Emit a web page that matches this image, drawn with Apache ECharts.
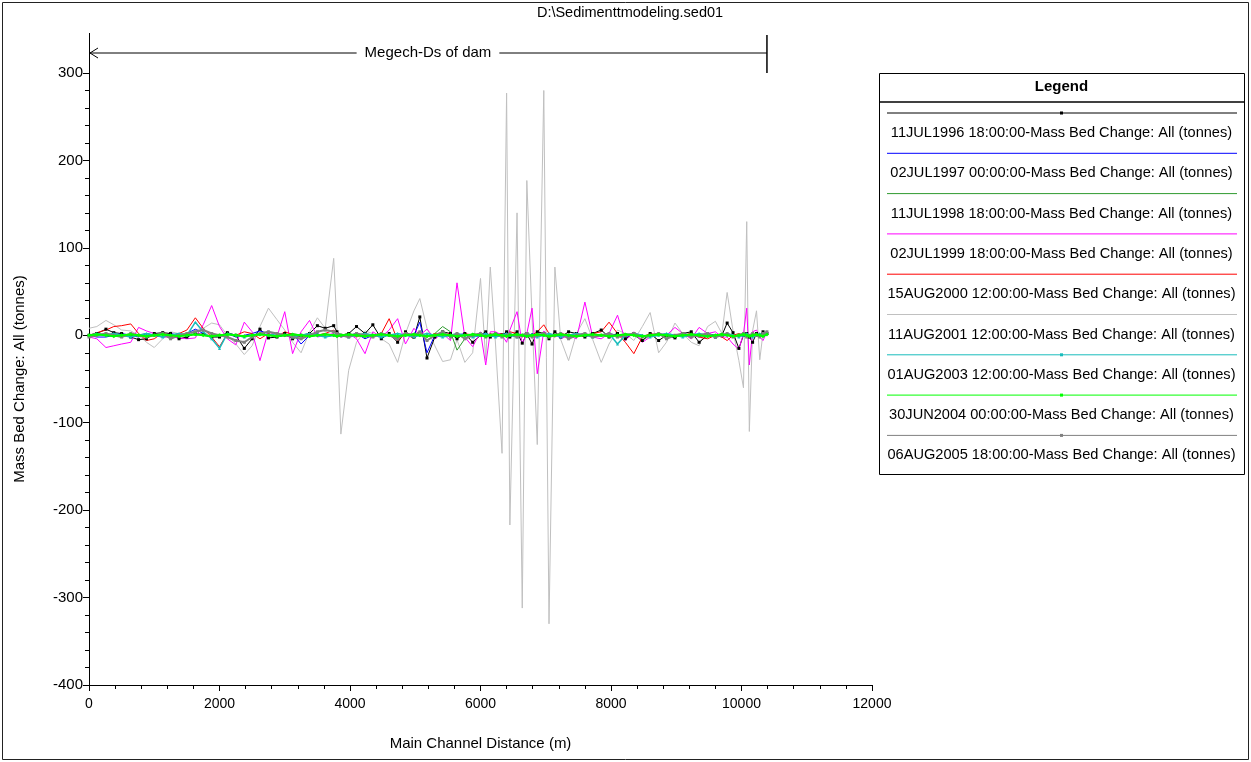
<!DOCTYPE html>
<html>
<head>
<meta charset="utf-8">
<title>Mass Bed Change</title>
<script src="https://cdn.jsdelivr.net/npm/echarts@6/dist/echarts.min.js"></script>
<style>
  html, body { margin: 0; padding: 0; background: #fff; }
  #chart { width: 1251px; height: 762px; }
</style>
</head>
<body>
<div id="chart"></div>
<script>
const FONT = 'Liberation Sans, Arial, sans-serif';

const plotTitle = 'D:\\Sedimenttmodeling.sed01';
const reachLabel = 'Megech-Ds of dam';
const reachEnd = 10390;

const xTicks = { min: 0, max: 12000, interval: 2000 };
const yTicks = { min: -400, max: 300, interval: 100 };

// river stations (m)
const distance = [
  0, 120, 260, 380, 500, 640, 760, 880, 1000, 1130,
  1250, 1380, 1500, 1630, 1750, 1880, 2000, 2120, 2250, 2380,
  2500, 2620, 2750, 2880, 3000, 3120, 3250, 3380, 3500, 3620,
  3750, 3800, 3860, 3980, 4100, 4230, 4350, 4480, 4600, 4730,
  4850, 4980, 5070, 5180, 5300, 5420, 5540, 5640, 5760, 5880,
  6000, 6080, 6150, 6230, 6330, 6400, 6450, 6560, 6640, 6710,
  6790, 6870, 6970, 7050, 7140, 7230, 7350, 7470, 7600, 7720,
  7850, 7970, 8100, 8220, 8350, 8480, 8600, 8730, 8850, 8980,
  9100, 9230, 9350, 9480, 9600, 9700, 9780, 9870, 9960, 10030,
  10080, 10120, 10170, 10230, 10280, 10330, 10390
];

const jul1996 = [
  0, 2, 7, 3, 2, -2, -5, -4, 2, 3,
  2, -4, -2, 2, 1, -2, -2, 3, 0, -15,
  -4, 7, -3, -2, 2, -4, 0, 2, 11, 8,
  11, 4, 0, 2, 10, 2, 12, -4, 2, -8,
  4, -2, 21, -26, -2, 4, 2, -4, 2, -8,
  0, 4, -2, 2, 0, 4, -2, 4, -9, 2,
  -10, 4, 2, -4, 4, -2, 4, 2, -2, 2,
  6, -2, 2, -4, 2, -6, 2, -6, 0, -3,
  2, 4, -8, 0, -2, 0, 14, 3, -15, 0,
  2, -2, -8, 2, 0, 4, 2
];

const jul1997 = [
  0, -2, -2, 0, 2, 0, -2, 2, 0, -2,
  2, 0, 2, 7, 2, -2, 0, 2, -2, 0,
  2, 5, 2, -2, 0, 2, -10, 0, 2, -2,
  0, 2, -2, 0, 2, -4, 0, 2, 0, -2,
  2, 0, 15, -20, 0, 2, -2, 0, 2, -2,
  0, 2, -2, 0, 2, 0, -2, 2, 0, -2,
  2, 0, 2, -2, 0, 2, -2, 0, 2, -2,
  0, 2, 0, -2, 2, 0, -2, 2, 0, -2,
  2, 0, -2, 2, 0, -2, 2, 0, -2, 2,
  0, -2, 2, 0, -2, 2, 0
];

const jul1998 = [
  0, 2, 0, 2, 0, -2, 0, 2, 0, -2,
  0, 2, 0, 2, 0, -2, 0, 2, 0, -2,
  0, 2, 0, -2, 0, 2, 0, -2, 0, 2,
  0, -2, 0, 2, 0, -2, 0, 2, 0, -2,
  0, 2, 0, -2, 2, 10, 4, -17, -4, 2,
  0, -2, 0, 2, 0, -2, 0, 2, 0, -2,
  0, 2, 0, -2, 0, 2, 0, -2, 0, 2,
  0, -2, 0, 2, 0, -6, 0, 2, 0, -2,
  0, 2, 0, -2, 0, 2, 0, -2, 0, 2,
  0, -2, 0, 2, 0, -2, 2
];

const jul1999 = [
  -2, -4, -14, -12, -10, -8, 9, 5, 2, -2,
  -2, -3, -4, -3, 12, 34, 10, -4, -11, 15,
  4, -29, 5, -2, 27, -21, 4, 17, -2, 0,
  2, -2, -1, 2, -4, -21, 4, -2, 6, 19,
  -10, 8, 0, 7, -4, 2, -6, 60, -2, -13,
  4, -34, 4, 4, 0, -8, 6, 27, -10, 2,
  31, -44, 5, -2, 2, -4, 0, -4, 38, -2,
  -4, 2, 23, -6, 4, -8, -2, 2, 0, 9,
  2, -4, 9, 2, 4, -2, -2, -10, -16, 2,
  31, -34, 4, 6, -2, -6, 4
];

const aug2000 = [
  0, 3, 6, 10, 11, 13, 2, -6, -4, 3,
  -2, 2, 6, 20, 8, -2, -13, 2, 0, 4,
  2, -4, 2, -2, 4, 1, -2, 2, 0, 2,
  6, 2, -2, 2, -2, 2, 0, 2, 19, -6,
  2, -4, 4, -2, 2, 0, 2, -2, 2, 0,
  2, -2, 2, 0, 2, -2, 4, 2, -2, 2,
  0, 4, 12, 2, -2, 2, 0, 2, -2, 2,
  4, 15, 2, -8, -21, -2, 2, 0, 2, -2,
  0, 2, -2, -4, 0, -2, -6, 0, 2, 0,
  2, -2, 0, 2, -2, 2, 0
];

const aug2001 = [
  8, 10, 17, 12, 6, 5, 0, -8, -14, -4,
  4, 2, -3, 6, 8, 14, 12, 0, -10, -22,
  -12, 10, 31, 18, 6, -8, -20, 4, 20, 8,
  88, 10, -113, -40, -8, 5, 2, -4, -10, -31,
  2, 28, 42, 8, -12, -30, -28, -5, -31, -20,
  65, -28, 78, -10, -135, 277, -217, 140, -312, 177,
  20, -125, 280, -330, 78, -5, -29, 2, 19, -5,
  -31, -10, 6, 2, -6, 10, 26, -20, -8, 14,
  2, -8, -12, 10, 16, 2, 49, 5, -29, -60,
  130, -110, 5, 28, -28, 3, 2
];

const aug2003 = [
  0, 2, 0, 2, 0, -2, 0, 2, 0, -2,
  0, 2, 0, 15, 4, -4, -15, 2, 0, -2,
  0, 2, 0, 2, 0, -2, 0, 2, 0, -2,
  0, 2, 0, -2, 0, 2, 0, -2, 0, 2,
  0, -2, 0, 2, 0, -2, 0, 2, 0, -2,
  0, 2, 0, -2, 0, 2, 0, -2, 0, 2,
  0, -2, 0, 2, 0, -2, 0, 2, 0, -2,
  0, 2, -10, 0, 2, 0, -2, 0, 2, 0,
  -2, 0, 2, 0, -2, 0, 2, 0, -2, 0,
  2, 0, -2, 0, 2, 0, 4
];

const jun2004 = [
  0, 1, 0, -1, 0, 1, 0, -1, 0, 1,
  0, -1, 0, 1, 0, -1, 0, 1, 0, -1,
  0, 1, 0, -1, 0, 1, 0, -1, 0, 1,
  0, -1, 0, 1, 0, -1, 0, 1, 0, -1,
  0, 1, 0, -1, 0, 1, 0, -1, 0, 1,
  0, -1, 0, 1, 0, -1, 0, 1, 0, -1,
  0, 1, 0, -1, 0, 1, 0, -1, 0, 1,
  0, -1, 0, 1, 0, -1, 0, 1, 0, -1,
  0, 1, 0, -1, 0, 1, 0, -1, 0, 1,
  0, -1, 0, 1, 0, -1, 1
];

const aug2005 = [
  -2, 0, 2, 0, -2, 2, 0, -2, 0, 2,
  -4, 0, 2, 4, 6, 2, 0, -2, -6, -8,
  -2, 2, 4, 2, 0, -2, -4, 0, 4, 6,
  4, 2, 0, -2, 2, 0, -2, 2, 0, -4,
  2, 0, 4, -6, 0, 4, -2, 2, -4, 0,
  2, -2, 0, 2, -2, 0, 2, -2, 0, 2,
  -2, 0, 2, -2, 0, 2, -4, 0, 2, -2,
  0, 2, -2, 0, 2, -2, 0, 2, -4, 0,
  2, -2, 0, 2, -2, 0, 2, -2, 0, 2,
  -2, 0, 2, 0, -2, 2, 4
];

const seriesDefs = [
  { name: '11JUL1996 18:00:00-Mass Bed Change: All (tonnes)', values: jul1996, color: '#000000', width: 1, symbol: 'rect', size: 3, z: 3 },
  { name: '02JUL1997 00:00:00-Mass Bed Change: All (tonnes)', values: jul1997, color: '#0000ff', width: 1, symbol: 'none', size: 0, z: 3 },
  { name: '11JUL1998 18:00:00-Mass Bed Change: All (tonnes)', values: jul1998, color: '#2f9a2f', width: 1, symbol: 'none', size: 0, z: 3 },
  { name: '02JUL1999 18:00:00-Mass Bed Change: All (tonnes)', values: jul1999, color: '#ff00ff', width: 1, symbol: 'none', size: 0, z: 3 },
  { name: '15AUG2000 12:00:00-Mass Bed Change: All (tonnes)', values: aug2000, color: '#ff0000', width: 1, symbol: 'none', size: 0, z: 3 },
  { name: '11AUG2001 12:00:00-Mass Bed Change: All (tonnes)', values: aug2001, color: '#c0c0c0', width: 1, symbol: 'none', size: 0, z: 2 },
  { name: '01AUG2003 12:00:00-Mass Bed Change: All (tonnes)', values: aug2003, color: '#19bcbc', width: 1.5, symbol: 'triangle', size: 3, z: 4 },
  { name: '30JUN2004 00:00:00-Mass Bed Change: All (tonnes)', values: jun2004, color: '#00ff00', width: 2, symbol: 'diamond', size: 4, z: 6 },
  { name: '06AUG2005 18:00:00-Mass Bed Change: All (tonnes)', values: aug2005, color: '#808080', width: 2, symbol: 'rect', size: 3, z: 5 },
];

const chart = echarts.init(document.getElementById('chart'), null, { renderer: 'canvas' });

const axisText = { color: '#000', fontFamily: FONT, fontSize: 14 };
const nameText = { color: '#000', fontFamily: FONT, fontSize: 15 };

chart.setOption({
  animation: false,
  backgroundColor: '#fff',
  textStyle: { fontFamily: FONT },
  grid: { left: 89, right: 379, top: 73, bottom: 77 },
  xAxis: {
    type: 'value',
    min: xTicks.min,
    max: xTicks.max,
    interval: xTicks.interval,
    name: 'Main Channel Distance (m)',
    nameLocation: 'middle',
    nameGap: 51,
    nameTextStyle: nameText,
    axisLine: { show: true, onZero: false, lineStyle: { color: '#000', width: 1 } },
    axisTick: { show: true, inside: false, length: 6, lineStyle: { color: '#000' } },
    minorTick: { show: true, splitNumber: 5, length: 4, lineStyle: { color: '#000' } },
    axisLabel: Object.assign({ margin: 12, formatter: v => String(v) }, axisText),
    splitLine: { show: false },
  },
  yAxis: {
    type: 'value',
    min: yTicks.min,
    max: yTicks.max,
    interval: yTicks.interval,
    name: 'Mass Bed Change: All (tonnes)',
    nameLocation: 'middle',
    nameGap: 62,
    nameRotate: 90,
    nameTextStyle: nameText,
    axisLine: { show: true, onZero: false, lineStyle: { color: '#000', width: 1 } },
    axisTick: { show: true, inside: false, length: 6, lineStyle: { color: '#000' } },
    minorTick: { show: true, splitNumber: 5, length: 4, lineStyle: { color: '#000' } },
    axisLabel: Object.assign({ margin: 6, formatter: v => String(v) }, axisText, { fontSize: 15 }),
    splitLine: { show: false },
  },
  series: seriesDefs.map(s => ({
    name: s.name,
    type: 'line',
    z: s.z,
    data: distance.map((d, i) => [d, s.values[i]]),
    symbol: s.symbol,
    symbolSize: s.size,
    showSymbol: s.symbol !== 'none',
    itemStyle: { color: s.color },
    lineStyle: { color: s.color, width: s.width },
  })),
});

// annotations, legend box and frame
const x0 = chart.convertToPixel({ xAxisIndex: 0 }, 0);
const xEnd = chart.convertToPixel({ xAxisIndex: 0 }, reachEnd);
const arrowY = 53;

const graphics = [
  { type: 'rect', shape: { x: 2.5, y: 2.5, width: 1246, height: 757 }, style: { fill: null, stroke: '#222', lineWidth: 1 }, silent: true },
  { type: 'text', x: 630, y: 13, style: { text: plotTitle, font: '14.5px ' + FONT, fill: '#000', align: 'center', verticalAlign: 'middle' } },
  { type: 'line', shape: { x1: x0 + 0.5, y1: 33, x2: x0 + 0.5, y2: 73 }, style: { stroke: '#000', lineWidth: 1 } },
  { type: 'line', shape: { x1: x0 + 1, y1: arrowY, x2: xEnd, y2: arrowY }, style: { stroke: '#000', lineWidth: 1 } },
  { type: 'polyline', shape: { points: [[x0 + 9, arrowY - 5], [x0 + 1, arrowY], [x0 + 9, arrowY + 5]] }, style: { stroke: '#000', lineWidth: 1, fill: null } },
  { type: 'line', shape: { x1: xEnd, y1: 35, x2: xEnd, y2: 73 }, style: { stroke: '#000', lineWidth: 1.5 } },
  { type: 'text', x: (x0 + xEnd) / 2, y: arrowY, style: { text: reachLabel, font: '15px ' + FONT, fill: '#000', align: 'center', verticalAlign: 'middle', backgroundColor: '#fff', padding: [2, 8] } },
];

// legend: line above each label, as in the original
const lgX = 879, lgY = 73, lgW = 365, lgH = 401, lgHead = 29, lgStep = 40.3;
graphics.push(
  { type: 'rect', shape: { x: lgX + 0.5, y: lgY + 0.5, width: lgW, height: lgH }, style: { fill: '#fff', stroke: '#000', lineWidth: 1 } },
  { type: 'line', shape: { x1: lgX, y1: lgY + lgHead, x2: lgX + lgW, y2: lgY + lgHead }, style: { stroke: '#000', lineWidth: 1.5 } },
  { type: 'text', x: lgX + lgW / 2, y: lgY + 14, style: { text: 'Legend', font: 'bold 15px ' + FONT, fill: '#000', align: 'center', verticalAlign: 'middle' } }
);
seriesDefs.forEach((s, i) => {
  const ly = lgY + lgHead + 11 + i * lgStep;
  graphics.push({ type: 'line', shape: { x1: lgX + 8, y1: ly, x2: lgX + lgW - 7, y2: ly }, style: { stroke: s.color, lineWidth: 1 } });
  if (s.symbol !== 'none') {
    graphics.push({ type: 'rect', shape: { x: lgX + lgW / 2 - 1.5, y: ly - 1.5, width: 3, height: 3 }, style: { fill: s.color } });
  }
  graphics.push({ type: 'text', x: lgX + lgW / 2, y: ly + 20, style: { text: s.name, font: '14.6px ' + FONT, fill: '#000', align: 'center', verticalAlign: 'middle' } });
});

chart.setOption({ graphic: graphics });
</script>
</body>
</html>
